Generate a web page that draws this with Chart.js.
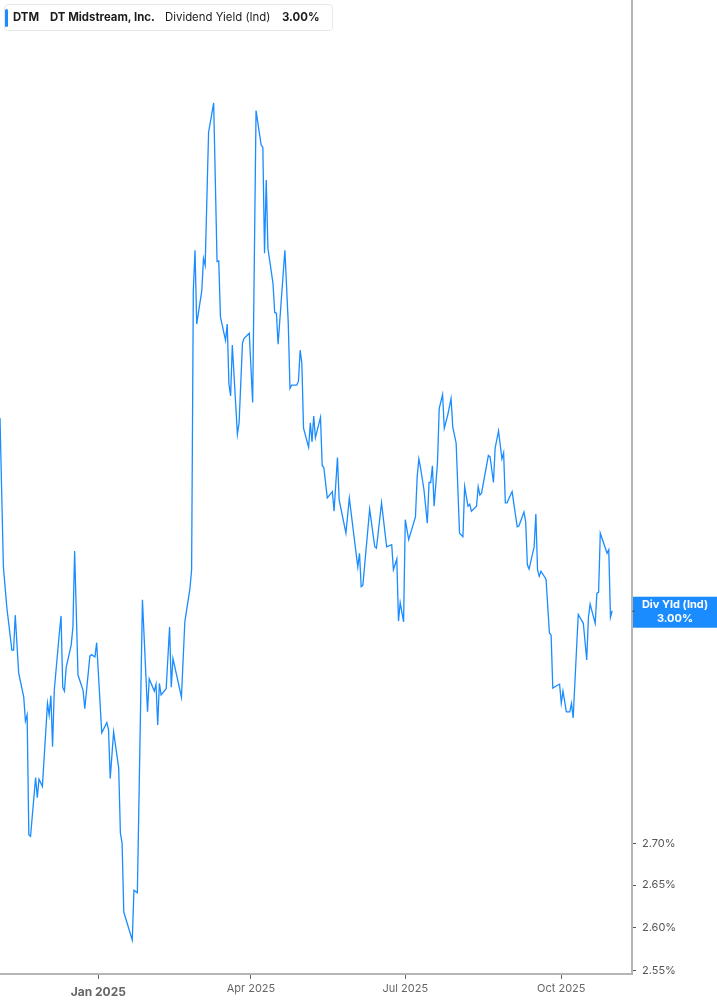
<!DOCTYPE html>
<html>
<head>
<meta charset="utf-8">
<script src="https://cdn.jsdelivr.net/npm/chart.js@4"></script>
<style>
  html, body { margin: 0; padding: 0; background: #fff; }
  #wrap { position: relative; width: 717px; height: 1005px; }
  #legend { position: absolute; left: 4px; top: 4px; width: 327px; height: 25px; border: 1px solid #e8e8e8; border-radius: 4px; background: #fff; font-family: Inter, "Noto Sans", sans-serif; font-size: 11.4px; color: #1c1c1c; }
  #legend .bar { position: absolute; left: 0px; top: 4px; width: 3px; height: 18px; background: #1a8cff; border-radius: 2px; }
  #legend span { position: absolute; top: 5px; white-space: nowrap; }
  #legend .b { font-weight: 700; }
</style>
</head>
<body>
<div id="wrap">
  <canvas id="c" width="717" height="1005"></canvas>
  <div id="legend">
    <div class="bar"></div>
    <span class="b" style="left:8px">DTM</span>
    <span class="b" style="left:45px">DT Midstream, Inc.</span>
    <span style="left:160px">Dividend Yield (Ind)</span>
    <span class="b" style="left:277px">3.00%</span>
  </div>
</div>
<script>
// ---- data ----
const dates = [
  "2024-11-04","2024-11-06","2024-11-08","2024-11-11","2024-11-12","2024-11-13","2024-11-15","2024-11-18","2024-11-19","2024-11-20",
  "2024-11-21","2024-11-22","2024-11-25","2024-11-26","2024-11-27","2024-11-29","2024-12-02","2024-12-03","2024-12-04","2024-12-05",
  "2024-12-06","2024-12-09","2024-12-10","2024-12-11","2024-12-12","2024-12-13","2024-12-16","2024-12-17","2024-12-18","2024-12-20",
  "2024-12-23","2024-12-24","2024-12-27","2024-12-28","2024-12-30","2024-12-31","2025-01-03","2025-01-06","2025-01-07","2025-01-08",
  "2025-01-10","2025-01-13","2025-01-14","2025-01-15","2025-01-16","2025-01-21","2025-01-22","2025-01-24","2025-01-27","2025-01-30",
  "2025-01-31","2025-02-03","2025-02-04","2025-02-05","2025-02-06","2025-02-07","2025-02-10","2025-02-12","2025-02-13","2025-02-14",
  "2025-02-19","2025-02-21","2025-02-24","2025-02-25","2025-02-26","2025-02-27","2025-02-28","2025-03-03","2025-03-04","2025-03-05",
  "2025-03-07","2025-03-10","2025-03-12","2025-03-13","2025-03-14","2025-03-17","2025-03-18","2025-03-19","2025-03-20","2025-03-21",
  "2025-03-24","2025-03-25","2025-03-27","2025-03-28","2025-03-31","2025-04-02","2025-04-03","2025-04-04","2025-04-07","2025-04-08",
  "2025-04-09","2025-04-10","2025-04-11","2025-04-14","2025-04-15","2025-04-16","2025-04-17","2025-04-21","2025-04-23","2025-04-24",
  "2025-04-25","2025-04-28","2025-04-29","2025-04-30","2025-05-01","2025-05-02","2025-05-05","2025-05-06","2025-05-07","2025-05-08",
  "2025-05-09","2025-05-12","2025-05-13","2025-05-14","2025-05-16","2025-05-19","2025-05-20","2025-05-22","2025-05-23","2025-05-27",
  "2025-05-29","2025-06-01","2025-06-03","2025-06-04","2025-06-05","2025-06-06","2025-06-10","2025-06-13","2025-06-14","2025-06-17",
  "2025-06-20","2025-06-23","2025-06-24","2025-06-26","2025-06-27","2025-06-28","2025-06-30","2025-07-01","2025-07-03","2025-07-07",
  "2025-07-08","2025-07-09","2025-07-10","2025-07-12","2025-07-14","2025-07-15","2025-07-16","2025-07-17","2025-07-18","2025-07-20",
  "2025-07-21","2025-07-23","2025-07-24","2025-07-26","2025-07-28","2025-07-29","2025-07-31","2025-08-02","2025-08-04","2025-08-05",
  "2025-08-07","2025-08-08","2025-08-09","2025-08-12","2025-08-13","2025-08-14","2025-08-15","2025-08-19","2025-08-20","2025-08-22",
  "2025-08-23","2025-08-25","2025-08-27","2025-08-28","2025-08-29","2025-08-30","2025-09-02","2025-09-05","2025-09-06","2025-09-09",
  "2025-09-10","2025-09-11","2025-09-12","2025-09-15","2025-09-16","2025-09-17","2025-09-18","2025-09-19","2025-09-22","2025-09-24",
  "2025-09-25","2025-09-26","2025-09-29","2025-09-30","2025-10-01","2025-10-02","2025-10-04","2025-10-06","2025-10-07","2025-10-08",
  "2025-10-11","2025-10-14","2025-10-16","2025-10-17","2025-10-18","2025-10-21","2025-10-22","2025-10-23","2025-10-24","2025-10-28",
  "2025-10-29","2025-10-30","2025-10-31"
];
const yieldValues = [
  3.273,3.060,3.005,2.947,2.947,2.994,2.917,2.885,2.854,2.862,
  2.711,2.709,2.782,2.757,2.780,2.771,2.877,2.862,2.887,2.821,
  2.894,2.970,2.993,2.898,2.893,2.924,2.954,2.978,3.082,2.914,
  2.894,2.870,2.939,2.941,2.938,2.957,2.839,2.852,2.843,2.781,
  2.840,2.794,2.713,2.701,2.618,2.585,2.644,2.641,3.015,2.866,
  2.909,2.893,2.902,2.849,2.903,2.888,2.896,2.978,2.898,2.936,
  2.885,2.985,3.030,3.056,3.467,3.531,3.415,3.467,3.518,3.507,
  3.724,3.774,3.513,3.514,3.426,3.390,3.415,3.324,3.306,3.383,
  3.249,3.266,3.386,3.393,3.401,3.296,3.520,3.761,3.703,3.699,
  3.526,3.645,3.534,3.478,3.433,3.432,3.384,3.531,3.416,3.317,
  3.322,3.322,3.328,3.375,3.355,3.258,3.230,3.266,3.238,3.276,
  3.244,3.274,3.204,3.200,3.157,3.166,3.138,3.215,3.154,3.107,
  3.157,3.098,3.060,3.079,3.033,3.035,3.141,3.088,3.086,3.150,
  3.088,3.091,3.056,3.071,2.986,3.011,2.985,3.126,3.098,3.130,
  3.187,3.213,3.200,3.169,3.121,3.179,3.179,3.203,3.145,3.208,
  3.287,3.308,3.258,3.277,3.302,3.260,3.236,3.107,3.102,3.173,
  3.145,3.148,3.138,3.145,3.173,3.161,3.164,3.218,3.216,3.179,
  3.229,3.254,3.213,3.222,3.150,3.150,3.166,3.116,3.117,3.137,
  3.123,3.063,3.057,3.088,3.134,3.056,3.047,3.054,3.043,2.970,
  2.967,2.897,2.901,2.902,2.877,2.893,2.866,2.866,2.877,2.858,
  2.995,2.983,2.934,2.991,3.009,2.983,3.024,3.025,3.107,3.079,
  3.084,2.991,3.000
];
const xTickDates = ["2025-01-01","2025-04-01","2025-07-01","2025-10-01"];
const xTickLabels = ["Jan 2025","Apr 2025","Jul 2025","Oct 2025"];
const yTickValues = [2.55, 2.60, 2.65, 2.70];
const seriesLabel = "Div Yld (Ind)";
const lastValue = yieldValues[yieldValues.length - 1];

// ---- helpers ----
const ORIGIN = Date.UTC(2025, 0, 1);
function dayNum(s) {
  const p = s.split("-").map(Number);
  return (Date.UTC(p[0], p[1] - 1, p[2]) - ORIGIN) / 864e5;
}
const points = dates.map((d, i) => ({ x: dayNum(d), y: yieldValues[i] }));
const FONT = "Inter, 'Noto Sans', sans-serif";
const BLUE = "#1a8cff";

const lastLabelPlugin = {
  id: "lastLabel",
  afterDraw(chart) {
    const ctx = chart.ctx;
    const ys = chart.scales.y;
    const area = chart.chartArea;
    const py = ys.getPixelForValue(lastValue);
    const x0 = area.right + 1, x1 = chart.width;
    ctx.save();
    ctx.fillStyle = BLUE;
    ctx.fillRect(x0, py - 14, x1 - x0, 31);
    ctx.strokeStyle = "#555";
    ctx.lineWidth = 1;
    ctx.beginPath(); ctx.moveTo(area.right, py + 0.5); ctx.lineTo(area.right + 3, py + 0.5); ctx.stroke();
    ctx.fillStyle = "#fff";
    ctx.font = "bold 11px " + FONT;
    ctx.textAlign = "center";
    ctx.textBaseline = "middle";
    const cx = (x0 + x1) / 2;
    ctx.fillText(seriesLabel, cx, py - 6);
    ctx.fillText(lastValue.toFixed(2) + "%", cx, py + 8);
    ctx.restore();
  }
};

new Chart(document.getElementById("c"), {
  type: "line",
  data: {
    datasets: [{
      data: points,
      borderColor: BLUE,
      borderWidth: 1.3,
      pointRadius: 0,
      pointHoverRadius: 0,
      tension: 0,
      fill: false
    }]
  },
  options: {
    responsive: false,
    animation: false,
    devicePixelRatio: 1,
    layout: { padding: 0 },
    plugins: { legend: { display: false }, tooltip: { enabled: false } },
    scales: {
      x: {
        type: "linear",
        bounds: "data",
        min: -58,
        max: 314.7,
        afterBuildTicks(scale) {
          scale.ticks = xTickDates.map(d => ({ value: dayNum(d) }));
        },
        afterFit(scale) {
          scale.height = 31;
          scale.paddingLeft = 0; scale.paddingRight = 0;
        },
        grid: { display: true, drawOnChartArea: false, drawTicks: true, tickLength: 5, tickColor: "#666", tickWidth: 1 },
        border: { display: true, color: "#b5b5b5", width: 2 },
        ticks: {
          autoSkip: false,
          maxRotation: 0,
          padding: 3,
          color: "#666",
          font: (ctx) => (ctx.index === 0
            ? { family: FONT, size: 12, weight: "bold", lineHeight: 1.7 }
            : { family: FONT, size: 11, weight: "normal", lineHeight: 1.2 }),
          callback: (v, i) => xTickLabels[i]
        }
      },
      y: {
        type: "logarithmic",
        position: "right",
        bounds: "data",
        min: 2.5457,
        max: 3.9538,
        afterBuildTicks(scale) {
          scale.ticks = yTickValues.map(v => ({ value: v }));
        },
        afterFit(scale) {
          scale.width = 85;
          scale.paddingTop = 0; scale.paddingBottom = 0;
        },
        grid: { display: true, drawOnChartArea: false, drawTicks: true, tickLength: 4, tickColor: "#555", tickWidth: 1 },
        border: { display: true, color: "#b5b5b5", width: 2 },
        ticks: {
          autoSkip: false,
          padding: 6,
          color: "#555",
          font: { family: FONT, size: 11 },
          callback: (v) => Number(v).toFixed(2) + "%"
        }
      }
    }
  },
  plugins: [lastLabelPlugin]
});
</script>
</body>
</html>
